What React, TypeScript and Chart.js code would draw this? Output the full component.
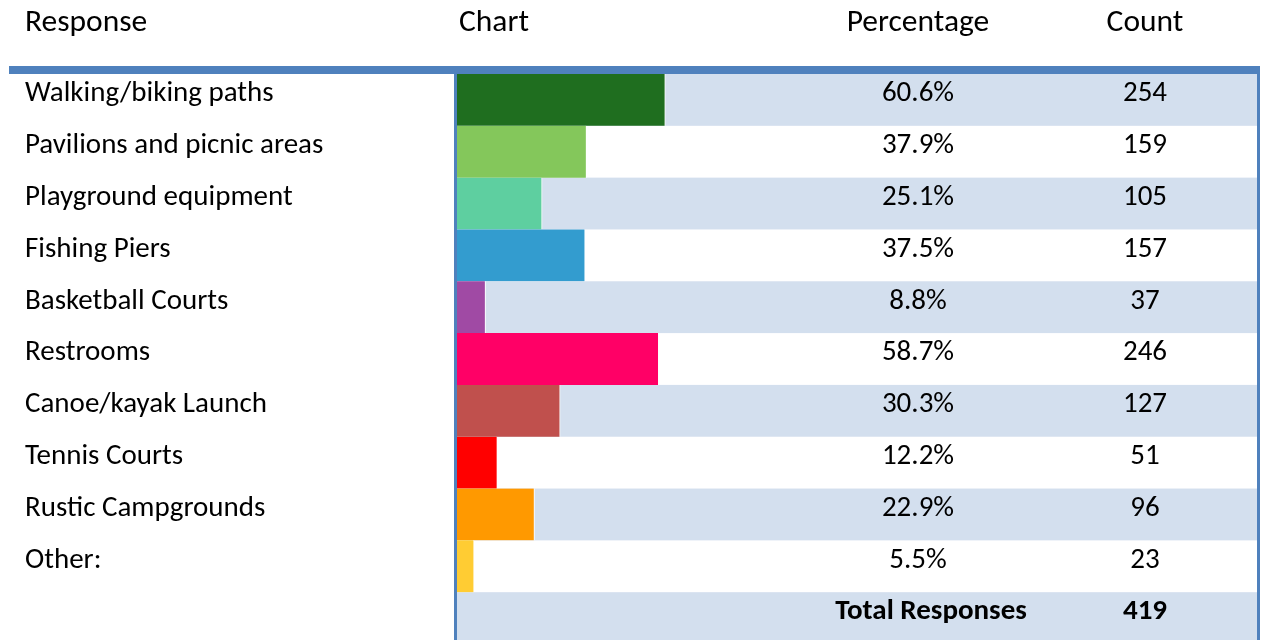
import React, { useEffect, useRef } from "react";
import { Chart, registerables } from "chart.js";

Chart.register(...registerables);

const responses = [
  "Walking/biking paths",
  "Pavilions and picnic areas",
  "Playground equipment",
  "Fishing Piers",
  "Basketball Courts",
  "Restrooms",
  "Canoe/kayak Launch",
  "Tennis Courts",
  "Rustic Campgrounds",
  "Other:",
];
const percentages = [60.6, 37.9, 25.1, 37.5, 8.8, 58.7, 30.3, 12.2, 22.9, 5.5];
const counts = [254, 159, 105, 157, 37, 246, 127, 51, 96, 23];
const barColors = [
  "#1F6E1F",
  "#84C75B",
  "#5ECFA0",
  "#339CCF",
  "#A04AA4",
  "#FF0066",
  "#C0504D",
  "#FF0000",
  "#FF9900",
  "#FFCC33",
];
const headers = ["Response", "Chart", "Percentage", "Count"];
const totalLabel = "Total Responses";
const totalResponses = 419;

const W = 1261;
const H = 644;
const TOP = 74;
const ROWS = responses.length + 1;
const ROW_H = (H - TOP) / ROWS;
const FONT = "Carlito, Calibri, Lato, sans-serif";
const FS_ROW = 29;
const FS_HEAD = 31.5;
const BAND = "#D3DFEE";
const BLUE = "#4F81BD";

const tablePlugin = {
  id: "tableDeco",
  beforeDatasetsDraw(chart: any) {
    const { ctx, chartArea, scales } = chart;
    const y = scales.y;
    const half = (y.getPixelForValue(1) - y.getPixelForValue(0)) / 2;
    ctx.save();
    ctx.fillStyle = BAND;
    for (let i = 0; i < ROWS; i += 2) {
      const c = y.getPixelForValue(i);
      ctx.fillRect(chartArea.left, c - half, 1257 - chartArea.left, half * 2);
    }
    ctx.restore();
  },
  afterDatasetsDraw(chart: any) {
    const { ctx } = chart;
    ctx.save();
    ctx.fillStyle = BLUE;
    ctx.fillRect(9, 66, 1251, 8);
    ctx.fillRect(454, 74, 3, H - 74);
    ctx.fillRect(1257, 74, 3, H - 74);
    ctx.restore();
  },
};

function Txt(props: {
  x: number;
  y: number;
  fs: number;
  align?: "left" | "center";
  bold?: boolean;
  children: any;
}) {
  const { x, y, fs, align = "left", bold, children } = props;
  const style: React.CSSProperties = {
    position: "absolute",
    top: y - 0.887 * fs,
    lineHeight: `${fs}px`,
    fontSize: fs,
    fontFamily: FONT,
    fontWeight: bold ? 700 : 400,
    color: "#000",
    whiteSpace: "nowrap",
  };
  if (align === "center") {
    style.left = x - 200;
    style.width = 400;
    style.textAlign = "center";
  } else {
    style.left = x;
  }
  return <div style={style}>{children}</div>;
}

export default function App() {
  const ref = useRef<HTMLCanvasElement>(null);

  useEffect(() => {
    if (!ref.current) return;
    const chart = new Chart(ref.current, {
      type: "bar",
      data: {
        labels: [...responses, totalLabel],
        datasets: [
          {
            data: [...percentages, null] as any,
            backgroundColor: barColors,
            borderColor: "#FFFFFF",
            borderWidth: { top: 0, bottom: 0, left: 0, right: 1 } as any,
            borderSkipped: false as any,
            barPercentage: 1,
            categoryPercentage: 1,
          },
        ],
      },
      options: {
        indexAxis: "y",
        responsive: false,
        maintainAspectRatio: false,
        animation: false,
        layout: { padding: { left: 455, right: W - 802, top: TOP, bottom: 0 } },
        scales: {
          x: { type: "linear", min: 0, max: 100, display: false },
          y: { type: "category", display: false, offset: true },
        },
        plugins: { legend: { display: false }, tooltip: { enabled: false } },
      },
      plugins: [tablePlugin],
    });
    return () => chart.destroy();
  }, []);

  const rowBase = (i: number) => TOP + ROW_H * i + 29;

  return (
    <div
      style={{
        position: "absolute",
        left: 0,
        top: 0,
        width: W,
        height: 640,
        overflow: "hidden",
        background: "#fff",
      }}
    >
      <canvas
        ref={ref}
        width={W}
        height={H}
        style={{ position: "absolute", left: 0, top: 0, width: W, height: H }}
      />
      <Txt x={25} y={33} fs={FS_HEAD}>{headers[0]}</Txt>
      <Txt x={459} y={33} fs={FS_HEAD}>{headers[1]}</Txt>
      <Txt x={918} y={33} fs={FS_HEAD} align="center">{headers[2]}</Txt>
      <Txt x={1145} y={33} fs={FS_HEAD} align="center">{headers[3]}</Txt>
      {responses.map((r, i) => (
        <React.Fragment key={r}>
          <Txt x={25} y={rowBase(i)} fs={FS_ROW}>{r}</Txt>
          <Txt x={918} y={rowBase(i)} fs={FS_ROW} align="center">
            {percentages[i].toFixed(1) + "%"}
          </Txt>
          <Txt x={1145} y={rowBase(i)} fs={FS_ROW} align="center">{counts[i]}</Txt>
        </React.Fragment>
      ))}
      <Txt x={931} y={rowBase(10)} fs={FS_ROW} align="center" bold>{totalLabel}</Txt>
      <Txt x={1145} y={rowBase(10)} fs={FS_ROW} align="center" bold>{totalResponses}</Txt>
    </div>
  );
}
